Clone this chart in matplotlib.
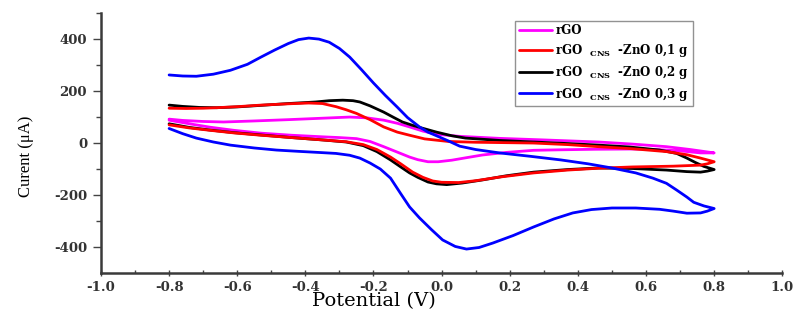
import matplotlib
matplotlib.use("Agg")
import matplotlib.pyplot as plt

# Cyclic voltammograms: forward scan from -0.8 V, then reverse scan back to -0.8 V
v_rgo = [-0.80, -0.76, -0.70, -0.64, -0.55, -0.45, -0.36, -0.27, -0.22, -0.17, -0.13, -0.094, -0.055, -0.015,
         0.05, 0.17, 0.30, 0.46, 0.56, 0.66, 0.73, 0.80,
         0.76, 0.70, 0.63, 0.56, 0.45, 0.35, 0.27, 0.19, 0.12, 0.07, 0.03, -0.01, -0.04, -0.07, -0.094,
         -0.13, -0.17, -0.21, -0.25, -0.30, -0.35, -0.44, -0.53, -0.61, -0.68, -0.74, -0.80]
i_rgo = [92, 87, 83, 81, 85, 90, 95, 100, 97, 88, 76, 62, 46, 34,
         26, 18, 12, 4, -4, -14, -25, -38,
         -38, -30, -25, -23, -24, -26, -28, -36, -46, -57, -66, -72, -72, -64, -54,
         -35, -14, 6, 17, 21, 24, 30, 38, 49, 61, 74, 88]

v_01 = [-0.80, -0.75, -0.70, -0.66, -0.60, -0.53, -0.45, -0.39, -0.35, -0.31, -0.28, -0.25, -0.21, -0.17,
        -0.13, -0.094, -0.05, 0.02, 0.10, 0.27, 0.37, 0.46, 0.56, 0.66, 0.72, 0.76, 0.80,
        0.78, 0.76, 0.68, 0.56, 0.46, 0.37, 0.27, 0.17, 0.10, 0.05, 0.00, -0.026, -0.055, -0.085,
        -0.12, -0.15, -0.19, -0.23, -0.28, -0.35, -0.44, -0.53, -0.61, -0.68, -0.74, -0.80]
i_01 = [134, 133, 134, 136, 140, 146, 151, 154, 152, 140, 128, 114, 90, 62,
        42, 30, 16, 6, 3, 0, -6, -14, -22, -33, -45, -58, -72,
        -80, -85, -89, -92, -97, -104, -115, -131, -145, -152, -151, -146, -132, -112,
        -80, -54, -25, -6, 5, 12, 21, 30, 39, 49, 58, 70]

v_02 = [-0.80, -0.76, -0.71, -0.66, -0.60, -0.53, -0.45, -0.37, -0.33, -0.29, -0.26, -0.24, -0.21, -0.17,
        -0.14, -0.115, -0.085, -0.056, -0.015, 0.03, 0.07, 0.17, 0.27, 0.37, 0.46, 0.55, 0.64, 0.69,
        0.72, 0.745, 0.77, 0.80,
        0.78, 0.76, 0.72, 0.66, 0.56, 0.46, 0.37, 0.27, 0.19, 0.12, 0.06, 0.015, -0.015, -0.04, -0.07,
        -0.094, -0.12, -0.15, -0.19, -0.23, -0.28, -0.35, -0.44, -0.53, -0.61, -0.68, -0.74, -0.80]
i_02 = [146, 141, 137, 136, 139, 145, 152, 158, 163, 165, 163, 158, 143, 119,
        98, 81, 68, 57, 42, 28, 19, 10, 4, -2, -8, -15, -27, -40,
        -58, -75, -90, -102,
        -108, -112, -110, -104, -98, -96, -102, -112, -126, -142, -154, -160, -157, -150, -132,
        -115, -92, -65, -33, -10, 4, 12, 21, 31, 40, 50, 60, 74]

v_03 = [-0.80, -0.76, -0.72, -0.67, -0.62, -0.57, -0.53, -0.49, -0.45, -0.42, -0.39, -0.36, -0.33, -0.30,
        -0.27, -0.235, -0.20, -0.165, -0.13, -0.10, -0.065, -0.04, -0.015, 0.02, 0.053, 0.10, 0.17, 0.26,
        0.35, 0.43, 0.50, 0.57, 0.62, 0.66, 0.69, 0.72, 0.74, 0.77, 0.80,
        0.78, 0.76, 0.72, 0.68, 0.64, 0.57, 0.50, 0.44, 0.385, 0.33, 0.27, 0.21, 0.15, 0.11, 0.073, 0.04,
        0.003, -0.03, -0.065, -0.094, -0.12, -0.15, -0.18, -0.21, -0.24, -0.27, -0.31, -0.35, -0.42,
        -0.485, -0.55, -0.62, -0.67, -0.72, -0.76, -0.80]
i_03 = [262, 258, 257, 265, 280, 303, 331, 358, 383, 398, 404, 400, 388, 364,
        331, 282, 231, 183, 138, 98, 62, 42, 28, 8, -12, -25, -38, -51,
        -65, -80, -96, -115, -135, -155, -181, -208, -228, -242, -252,
        -262, -269, -270, -262, -255, -250, -250, -256, -269, -292, -323, -356, -385, -402, -408, -398,
        -373, -333, -288, -246, -195, -135, -100, -77, -58, -47, -40, -37, -32,
        -27, -19, -8, 4, 19, 36, 56]

labels = ["rGO",
          r"rGO$_{\quad\mathregular{CNS}\quad}$-ZnO 0,1 g",
          r"rGO$_{\quad\mathregular{CNS}\quad}$-ZnO 0,2 g",
          r"rGO$_{\quad\mathregular{CNS}\quad}$-ZnO 0,3 g"]
colors = ["#ff00ff", "#ff0000", "#000000", "#0000ff"]

plt.rcParams["font.family"] = ["DejaVu Serif"]
plt.rcParams["axes.unicode_minus"] = False
plt.rcParams["mathtext.fontset"] = "custom"
plt.rcParams["mathtext.rm"] = "DejaVu Serif:bold"

fig = plt.figure(figsize=(7.95, 3.2), dpi=100)
ax = fig.add_axes([0.127, 0.147, 0.857, 0.812])

series = [(v_rgo, i_rgo), (v_01, i_01), (v_02, i_02), (v_03, i_03)]
zorders = [3, 4, 3.5, 5]
for (v, i), lab, c, z in zip(series, labels, colors, zorders):
    ax.plot(v, i, color=c, lw=2.0, label=lab, zorder=z,
            solid_joinstyle="round", solid_capstyle="round")

ax.set_xlim(-1.0, 1.0)
ax.set_ylim(-500, 500)
ax.set_xticks([-1.0, -0.8, -0.6, -0.4, -0.2, 0.0, 0.2, 0.4, 0.6, 0.8, 1.0])
ax.set_xticks([-0.9, -0.7, -0.5, -0.3, -0.1, 0.1, 0.3, 0.5, 0.7, 0.9], minor=True)
ax.set_yticks([-400, -200, 0, 200, 400])
ax.set_yticks([-300, -100, 100, 300, 500], minor=True)
ax.set_xticklabels([f"{t:.1f}" for t in ax.get_xticks()])

for s in ["top", "right"]:
    ax.spines[s].set_visible(False)
for s in ["left", "bottom"]:
    ax.spines[s].set_linewidth(1.8)
    ax.spines[s].set_color("#3a3a3a")

ax.tick_params(axis="y", which="major", direction="out", length=6, width=1,
               colors="#444444", labelsize=9.5, pad=4)
ax.tick_params(axis="y", which="minor", direction="out", length=3.5, width=1,
               colors="#444444")
ax.tick_params(axis="x", which="major", direction="inout", length=5, width=1,
               colors="#444444", labelsize=9.5, pad=3)
ax.tick_params(axis="x", which="minor", direction="in", length=2.5, width=1,
               colors="#444444")
for t in ax.get_xticklabels() + ax.get_yticklabels():
    t.set_fontweight("bold")
    t.set_color("#333333")

ax.set_xlabel("Potential (V)", fontsize=14)
ax.xaxis.set_label_coords(0.40, -0.075)
ax.set_ylabel("Curent (\u03bcA)", fontsize=12, family="Liberation Serif")
ax.yaxis.set_label_coords(-0.098, 0.45)

leg = ax.legend(loc="upper left", bbox_to_anchor=(0.608, 0.97), frameon=True,
                fancybox=False, edgecolor="#777777", handlelength=2.8,
                handletextpad=0.3, borderpad=0.3, borderaxespad=0,
                labelspacing=0.4,
                prop={"family": "DejaVu Serif", "weight": "bold", "size": 8.5})
leg.get_frame().set_linewidth(1.0)

fig.savefig("out.png", dpi=100)
